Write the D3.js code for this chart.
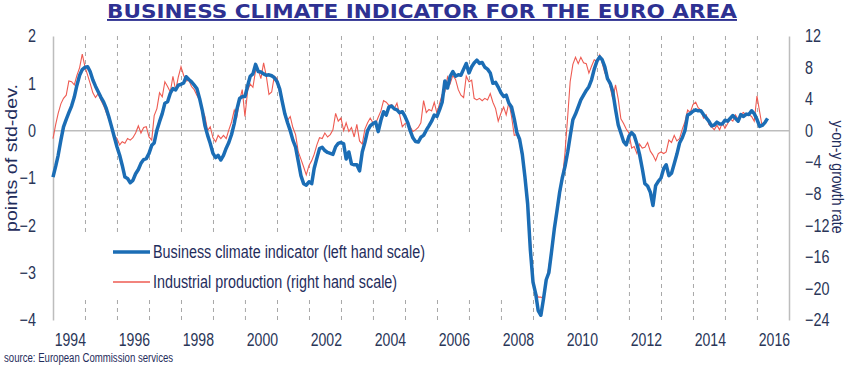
<!DOCTYPE html>
<html>
<head>
<meta charset="utf-8">
<script src="https://cdn.jsdelivr.net/npm/d3@7"></script>
<style>
  body { margin: 0; background: #fff; }
  svg text { font-family: "Liberation Sans Narrow", "Arial Narrow", "Liberation Sans", sans-serif; fill: #1f2d5c; }
</style>
</head>
<body>
<div id="chart"></div>
<script>
// monthly series, starting January 1994
const firstYear = 1994;

// business climate indicator, points of std-dev (left scale)
const bci = [
  -0.98, -0.75, -0.52, -0.20, 0.08, 0.24, 0.38, 0.52, 0.71, 0.96, 1.17, 1.29,
  1.34, 1.35, 1.25, 1.07, 0.94, 0.82, 0.71, 0.61, 0.47, 0.29, 0.08, -0.13,
  -0.34, -0.52, -0.73, -0.98, -1.01, -1.10, -1.05, -0.91, -0.82, -0.69, -0.61, -0.59,
  -0.48, -0.31, -0.26, 0.01, 0.19, 0.36, 0.58, 0.61, 0.79, 0.89, 0.86, 0.96,
  0.98, 1.01, 1.14, 1.08, 1.03, 0.96, 0.89, 0.68, 0.43, 0.11, -0.10, -0.27,
  -0.48, -0.57, -0.52, -0.62, -0.52, -0.37, -0.25, -0.08, 0.15, 0.45, 0.68, 0.72,
  0.72, 0.95, 1.15, 1.20, 1.40, 1.25, 1.24, 1.20, 1.17, 1.18, 1.16, 1.12,
  1.04, 0.88, 0.62, 0.35, 0.17, 0.00, -0.20, -0.35, -0.65, -0.95, -1.12, -1.15,
  -1.08, -1.12, -0.80, -0.58, -0.38, -0.35, -0.42, -0.46, -0.48, -0.50, -0.34, -0.27,
  -0.25, -0.28, -0.60, -0.45, -0.70, -0.72, -0.72, -0.85, -0.45, -0.25, 0.00, 0.10,
  0.15, 0.18, -0.02, 0.22, 0.40, 0.33, 0.50, 0.52, 0.46, 0.44, 0.38, 0.40,
  0.30, 0.17, 0.00, -0.15, -0.23, -0.24, -0.14, -0.10, 0.01, 0.10, 0.20, 0.33,
  0.30, 0.45, 0.60, 1.05, 0.90, 1.15, 1.25, 1.15, 1.18, 1.17, 1.30, 1.42,
  1.22, 1.35, 1.43, 1.49, 1.42, 1.44, 1.34, 1.30, 1.22, 1.00, 1.02, 0.92,
  0.80, 0.72, 0.75, 0.58, 0.50, 0.25, -0.04, -0.18, -0.50, -0.98, -1.55, -2.50,
  -3.20, -3.45, -3.80, -3.90, -3.55, -3.15, -3.00, -2.55, -2.08, -1.70, -1.30, -1.00,
  -0.76, -0.45, -0.12, 0.23, 0.35, 0.50, 0.65, 0.75, 0.85, 0.93, 1.08, 1.30,
  1.47, 1.56, 1.50, 1.35, 1.10, 1.00, 0.82, 0.45, 0.12, -0.05, -0.23, -0.30,
  -0.12, -0.04, -0.10, -0.28, -0.50, -0.80, -1.12, -1.17, -1.30, -1.58, -1.16, -1.07,
  -1.00, -0.80, -0.72, -0.95, -0.90, -0.70, -0.50, -0.26, -0.15, 0.00, 0.33, 0.36,
  0.41, 0.44, 0.42, 0.42, 0.34, 0.27, 0.20, 0.10, 0.12, 0.18, 0.14, 0.14,
  0.22, 0.20, 0.26, 0.32, 0.26, 0.20, 0.34, 0.30, 0.35, 0.34, 0.42, 0.36,
  0.24, 0.09, 0.11, 0.17, 0.26
];

// industrial production, y-on-y growth rate in % (right scale)
const ip = [
  -1.0, 0.8, 2.2, 3.4, 4.1, 4.5, 6.3, 6.2, 5.8, 7.0, 8.0, 9.7,
  8.1, 7.0, 6.0, 4.8, 4.2, 4.7, 3.9, 3.2, 2.3, 1.4, 0.5, -0.6,
  -1.0, -1.8, -1.4, -1.6, -1.0, -1.2, -0.9, -0.3, 0.6, -0.3, 0.4, 0.5,
  -0.8, -1.2, 1.9, 2.8, 4.8, 4.3, 6.2, 5.6, 4.9, 6.9, 5.1, 6.8,
  8.1, 7.0, 6.3, 6.4, 5.6, 5.2, 4.5, 3.9, 2.7, 1.8, 0.0, 0.5,
  -0.9, -1.4, -0.6, -1.0, -0.6, -1.0, 0.1, 1.1, 2.6, 1.8, 3.8, 5.2,
  1.8, 5.1, 5.9, 5.5, 7.6, 7.7, 6.6, 8.6, 6.9, 4.6, 4.9, 6.9,
  6.6, 4.7, 3.5, 1.8, 1.3, 1.8, 0.4, -0.5, -2.7, -3.6, -4.6, -5.6,
  -4.4, -3.8, -3.0, -1.8, -0.9, -1.0, -0.3, -0.8, -0.5, 0.1, 2.2, 1.2,
  1.6, 0.0, 1.0, -0.1, 0.4, -0.8, 0.8, -1.3, -1.7, 0.2, 1.0, 1.6,
  1.0, 0.9, 1.7, 2.5, 3.8, 3.6, 3.2, 3.3, 2.8, 3.5, 2.0, 0.5,
  0.9, 1.1, 0.5, -0.1, 0.1, 0.4, 1.0, 3.8, 2.3, 2.7, 2.5, 3.6,
  2.2, 3.5, 4.6, 4.9, 6.8, 6.0, 7.0, 6.5, 5.2, 4.5, 4.2, 6.9,
  6.2, 6.4, 4.1, 3.9, 4.1, 3.8, 4.1, 3.9, 4.7, 3.6, 2.8, 1.2,
  2.2, 3.0, 2.0, 3.6, 1.8, -0.6, -0.5, -1.5, -3.5, -6.0, -9.5, -13.5,
  -18.8, -20.5, -21.1, -21.1, -21.3, -19.2, -17.2, -15.2, -12.6, -10.2, -8.5, -6.2,
  -2.8, 1.8, 6.2, 8.4, 9.3, 8.5, 9.3, 8.6, 8.5, 7.3, 8.2, 9.0,
  8.8, 9.6, 8.6, 7.3, 6.8, 5.5, 4.0, 5.8, 4.0, 1.5, 0.9, 0.2,
  -0.3, -2.2, -2.0, -2.9, -1.7, -2.2, -2.1, -1.5, -2.6, -3.1, -3.8, -2.9,
  -2.7, -2.9, -2.7, -1.2, -1.5, -0.6, -1.3, -1.0, 0.2, 1.1, 2.6, 2.3,
  3.3, 3.6, 2.9, 2.6, 1.6, 2.0, 0.8, 0.5, 0.1, 0.7, 0.1, 1.0,
  0.3, 0.9, 1.5, 1.2, 2.0, 1.4, 2.1, 2.3, 1.9, 2.0, 1.8, 1.2,
  4.4, 2.4, 0.5
];

const yearLabels = [1994, 1996, 1998, 2000, 2002, 2004, 2006, 2008, 2010, 2012, 2014, 2016];
const leftTicks = [2, 1, 0, -1, -2, -3, -4];
const rightTicks = [12, 8, 4, 0, -4, -8, -12, -16, -20, -24];

const width = 850;
const height = 366;
const plotLeft = 53, plotRight = 789, plotTop = 36, plotBottom = 320;

const toSeries = values => values.map((v, i) => ({date: d3.timeMonth.offset(new Date(firstYear, 0, 1), i), value: v}));
const bciData = toSeries(bci);
const ipData = toSeries(ip);

// the original uses a narrow sans; squeeze the regular one to match
function condense(sel, k) {
  sel.each(function () {
    const w = this.getComputedTextLength();
    d3.select(this).attr("textLength", w * k).attr("lengthAdjust", "spacingAndGlyphs");
  });
}

const x = d3.scaleTime()
  .domain([new Date(firstYear, 0, 1), new Date(2017, 0, 1)])
  .range([plotLeft, plotRight]);
const yLeft = d3.scaleLinear().domain([-4, 2]).range([plotBottom, plotTop]);
const yRight = d3.scaleLinear().domain([-24, 12]).range([plotBottom, plotTop]);

const svg = d3.select("#chart")
  .append("svg")
  .attr("width", width)
  .attr("height", height);

// title
svg.append("text")
  .attr("x", 422)
  .attr("y", 18)
  .attr("text-anchor", "middle")
  .attr("textLength", 630)
  .attr("lengthAdjust", "spacingAndGlyphs")
  .style("font-family", "'DejaVu Sans', Verdana, sans-serif")
  .style("font-weight", "bold")
  .style("font-size", "19px")
  .style("fill", "#2e3192")
  .style("text-decoration", "underline")
  .text("BUSINESS CLIMATE INDICATOR FOR THE EURO AREA");

// yearly dashed gridlines
const yearStarts = d3.range(firstYear + 1, 2017).map(y => new Date(y, 0, 1));
svg.append("g")
  .attr("transform", "translate(0," + plotBottom + ")")
  .call(d3.axisBottom(x).tickValues(yearStarts).tickSize(-(plotBottom - plotTop)).tickFormat(""))
  .call(g => g.select(".domain").remove())
  .call(g => g.selectAll(".tick line")
    .attr("stroke", "#a8a8a8")
    .attr("stroke-dasharray", "4,4"));

// zero line
svg.append("line")
  .attr("x1", plotLeft).attr("x2", plotRight)
  .attr("y1", yLeft(0)).attr("y2", yLeft(0))
  .attr("stroke", "#bdbdbd")
  .attr("stroke-width", 1.5);

// left axis
svg.append("g")
  .attr("transform", "translate(" + plotLeft + ",0)")
  .call(d3.axisLeft(yLeft).tickValues(leftTicks).tickSize(0).tickPadding(17).tickFormat(d3.format("d")))
  .call(g => g.select(".domain").attr("stroke", "#bdbdbd").attr("stroke-width", 1.5))
  .call(g => g.selectAll("text").style("font-size", "18px").style("fill", "#2a3658").call(condense, 0.8));

// right axis
svg.append("g")
  .attr("transform", "translate(" + plotRight + ",0)")
  .call(d3.axisRight(yRight).tickValues(rightTicks).tickSize(0).tickPadding(16).tickFormat(d3.format("d")))
  .call(g => g.select(".domain").attr("stroke", "#bdbdbd").attr("stroke-width", 1.5))
  .call(g => g.selectAll("text").style("font-size", "18px").style("fill", "#2a3658").call(condense, 0.8));

// year labels, centred in each year
svg.append("g")
  .attr("transform", "translate(1," + plotBottom + ")")
  .call(d3.axisBottom(x).tickValues(yearLabels.map(y => new Date(y, 6, 1))).tickSize(0).tickPadding(13).tickFormat(d3.timeFormat("%Y")))
  .call(g => g.select(".domain").remove())
  .call(g => g.selectAll("text").style("font-size", "18px").style("fill", "#2a3658").call(condense, 0.78));

// axis titles
svg.append("text")
  .attr("transform", "translate(17,158) rotate(-90)")
  .attr("text-anchor", "middle")
  .attr("textLength", 148)
  .attr("lengthAdjust", "spacingAndGlyphs")
  .style("font-family", "'Liberation Sans', Arial, sans-serif")
  .style("font-size", "16px")
  .text("points of std-dev.");

svg.append("text")
  .attr("transform", "translate(832,177) rotate(90)")
  .attr("text-anchor", "middle")
  .attr("textLength", 113)
  .attr("lengthAdjust", "spacingAndGlyphs")
  .style("font-family", "'Liberation Sans', Arial, sans-serif")
  .style("font-size", "16px")
  .text("y-on-y growth rate");

// lines
const lineLeft = d3.line().x(d => x(d.date)).y(d => yLeft(d.value));
const lineRight = d3.line().x(d => x(d.date)).y(d => yRight(d.value));

svg.append("path")
  .datum(ipData)
  .attr("fill", "none")
  .attr("stroke", "#ee5b52")
  .attr("stroke-width", 1.1)
  .attr("d", lineRight);

svg.append("path")
  .datum(bciData)
  .attr("fill", "none")
  .attr("stroke", "#1b6db5")
  .attr("stroke-width", 3.5)
  .attr("stroke-linejoin", "round")
  .attr("d", lineLeft);

// legend
const legend = svg.append("g");
legend.append("rect")
  .attr("x", 72).attr("y", 232)
  .attr("width", 443).attr("height", 65)
  .attr("fill", "#fff");

const legendItems = [
  {label: "Business climate indicator (left hand scale)", color: "#1b6db5", width: 3.5, y: 252},
  {label: "Industrial production (right hand scale)", color: "#ee5b52", width: 1.3, y: 282}
];
legendItems.forEach(item => {
  legend.append("line")
    .attr("x1", 113).attr("x2", 150)
    .attr("y1", item.y).attr("y2", item.y)
    .attr("stroke", item.color)
    .attr("stroke-width", item.width);
  legend.append("text")
    .attr("x", 153)
    .attr("y", item.y + 6)
    .style("font-size", "17.5px")
    .call(condense, 1)
    .text(item.label)
    .call(condense, 0.82);
});

// source
svg.append("text")
  .attr("x", 4)
  .attr("y", 362)
  .style("font-size", "12px")
  .text("source: European Commission services")
  .call(condense, 0.8);
</script>
</body>
</html>
